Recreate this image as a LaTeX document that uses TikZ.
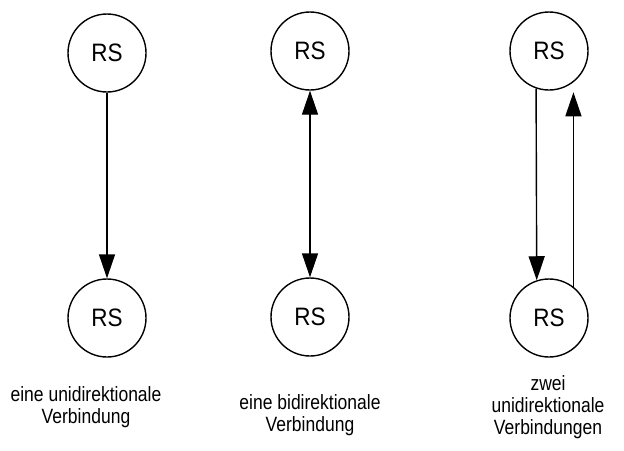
\documentclass[tikz,border=0pt]{standalone}
\usepackage{fontspec}
\setmainfont{Liberation Sans}
\usepackage{graphicx}
\usetikzlibrary{arrows.meta}
% taller-than-wide lettering used for all labels
\newcommand{\tallcap}[1]{\scalebox{1}[1.18]{\begin{tabular}{@{}c@{}}#1\end{tabular}}}
\newcommand{\rslabel}{\scalebox{1}[1.12]{RS}}
\begin{document}
\begin{tikzpicture}[x=1pt,y=-1pt,
  rs/.style={circle,draw,line width=1.4pt,minimum size=78pt,inner sep=0pt,
             font=\fontsize{22.5}{24}\selectfont},
  link/.style={line width=1.4pt,-{Triangle[length=24pt,width=16pt]}},
  dlink/.style={line width=1.4pt,{Triangle[length=24pt,width=16pt]}-{Triangle[length=24pt,width=16pt]}},
  caption/.style={inner sep=0pt,font=\fontsize{17.5}{18.6}\selectfont}]
  \useasboundingbox (0,0) rectangle (624,450);

  % single one-way link
  \node[rs] (t1) at (107,53) {\rslabel};
  \node[rs] (b1) at (107,318) {\rslabel};
  \draw[link] (t1) -- (b1);
  \node[caption] (c1) at (86,408) {\tallcap{eine unidirektionale\\Verbindung}};

  % one two-way link
  \node[rs] (t2) at (310,51) {\rslabel};
  \node[rs] (b2) at (310,317) {\rslabel};
  \draw[dlink] (t2) -- (b2);
  \node[caption] (c2) at (310,416) {\tallcap{eine bidirektionale\\Verbindung}};

  % two one-way links
  \node[rs] (t3) at (549,51) {\rslabel};
  \node[rs] (b3) at (549,318) {\rslabel};
  \draw[link] (t3.251.3) -- (b3.108.7);
  \draw[link,shorten >=10pt] (b3.52.0) -- (t3.-52.0);
  \node[caption] (c3) at (548,408) {\tallcap{zwei\\unidirektionale\\Verbindungen}};
\end{tikzpicture}
\end{document}
